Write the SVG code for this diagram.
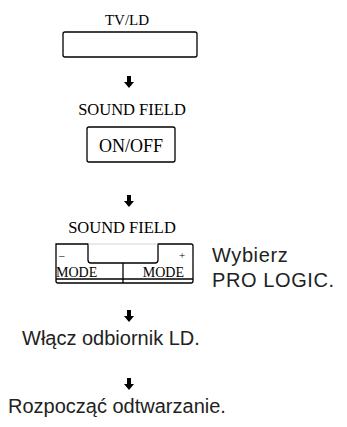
<svg xmlns="http://www.w3.org/2000/svg" width="347" height="427" viewBox="0 0 347 427">
<style>
.serif{font-family:"Liberation Serif","Times New Roman",serif;fill:#000}
.sans{font-family:"Liberation Sans",Arial,sans-serif;fill:#222;font-size:20px}
.box{fill:#fff;stroke:#000;stroke-width:1.3}
.line{fill:none;stroke:#000;stroke-width:1.3}
</style>
<defs>
<path id="arr" d="M-2,0 H2 V6 H5 L0,12 L-5,6 H-2 Z" fill="#000"/>
</defs>
<g id="tvld">
<text class="serif" x="127" y="25" font-size="15" text-anchor="middle">TV/LD</text>
<rect class="box" x="63" y="32" width="134" height="25" rx="2"/>
</g>
<g id="soundfield1">
<text class="serif" x="132" y="115" font-size="16.5" text-anchor="middle">SOUND FIELD</text>
<rect class="box" x="87" y="127" width="88" height="35" rx="2"/>
<text class="serif" x="131" y="152" font-size="18" text-anchor="middle">ON/OFF</text>
</g>
<g id="soundfield2">
<text class="serif" x="122" y="233" font-size="16.5" text-anchor="middle">SOUND FIELD</text>
<path class="line" d="M56,244 H88 V260 Q88,263 91,263 H155 Q158,263 158,260 V244 H191 Q193,244 193,246 V281 Q193,283 191,283 H58 Q56,283 56,281 Z"/>
<line x1="88" y1="244" x2="158" y2="244" stroke="#ccc" stroke-width="0.8"/>
<line class="line" x1="123" y1="263" x2="123" y2="283"/>
<line class="line" x1="56" y1="279" x2="193" y2="279"/>
<text class="serif" x="59" y="259" font-size="11">–</text>
<text class="serif" x="182" y="259" font-size="11" text-anchor="middle">+</text>
<text class="serif" x="56" y="277" font-size="14">MODE</text>
<text class="serif" x="184" y="277" font-size="14" text-anchor="end">MODE</text>
</g>
<g id="wybierz">
<text class="sans" x="212" y="262" font-size="21" letter-spacing="0.6">Wybierz</text>
<text class="sans" x="212" y="287" font-size="21" letter-spacing="0.6">PRO LOGIC.</text>
</g>
<g id="wlacz">
<text class="sans" x="22" y="345">Włącz odbiornik LD.</text>
</g>
<g id="rozpoczac">
<text class="sans" x="8" y="413">Rozpocząć odtwarzanie.</text>
</g>
<g id="connectors">
<use href="#arr" x="129" y="76"/>
<use href="#arr" x="129" y="195"/>
<use href="#arr" x="129" y="310"/>
<use href="#arr" x="129" y="378"/>
</g>
</svg>
